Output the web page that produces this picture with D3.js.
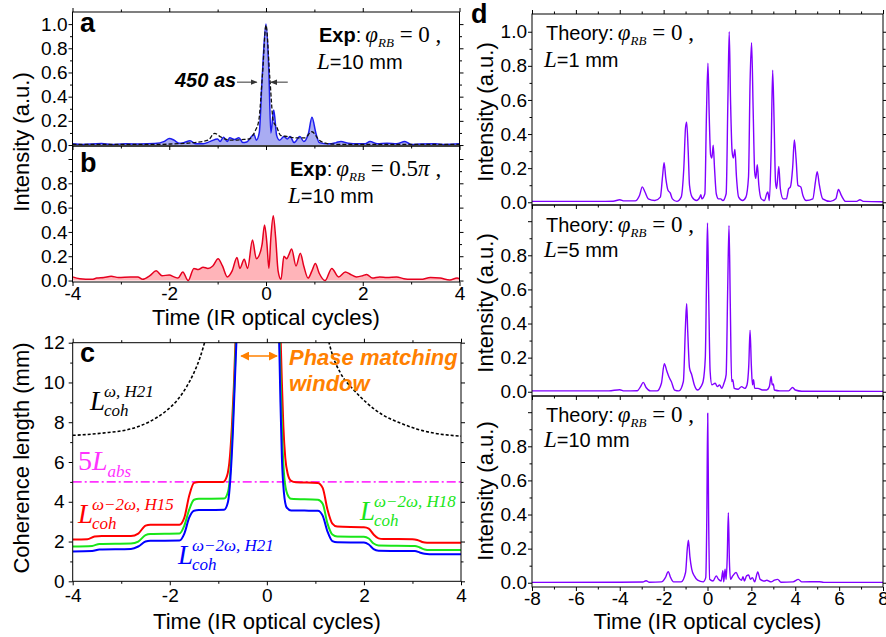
<!DOCTYPE html>
<html><head><meta charset="utf-8">
<script src="https://d3js.org/d3.v7.min.js"></script>
<style>
body{margin:0;background:#fff}
svg text{font-family:"Liberation Sans",Arial,sans-serif}
.tick text{font-size:19px;fill:#000}
.tick line{stroke:#000}
.serif{font-family:"Liberation Serif","Times New Roman",serif !important}
</style></head><body>
<svg id="fig" width="886" height="637"></svg>
<script>
// ---- data ----
// panel a: experiment, phi_RB = 0 (blue, filled) and reconstructed (black dashed)
var expA = [[-4,0.01],[-3.8,0.005],[-3.4,0.012],[-3.2,0.005],[-2.9,0.01],[-2.6,0.008],[-2.3,0.012],[-2.1,0.03],[-2.0,0.055],[-1.9,0.04],[-1.8,0.015],[-1.7,0.02],[-1.57,0.035],[-1.45,0.01],[-1.3,0.01],[-1.15,0.03],[-1.0,0.05],[-0.95,0.03],[-0.88,0.065],[-0.8,0.03],[-0.75,0.06],[-0.65,0.045],[-0.56,0.06],[-0.48,0.02],[-0.4,0.025],[-0.3,0.07],[-0.25,0.09],[-0.2,0.04],[-0.14,0.1],[-0.08,0.55],[0.0,1.0],[0.06,0.6],[0.1,0.1],[0.16,0.29],[0.22,0.08],[0.28,0.04],[0.37,0.07],[0.44,0.05],[0.5,0.07],[0.58,0.02],[0.7,0.07],[0.78,0.03],[0.88,0.1],[0.95,0.23],[1.03,0.1],[1.1,0.02],[1.3,0.01],[1.45,0.02],[1.55,0.03],[1.7,0.015],[1.9,0.01],[2.05,0.01],[2.15,0.03],[2.3,0.01],[2.5,0.015],[2.7,0.01],[2.87,0.03],[3.0,0.005],[3.2,0.008],[3.5,0.01],[3.7,0.005],[4.0,0.01]];
var recA = [[-4,0.005],[-2.2,0.005],[-1.9,0.01],[-1.5,0.02],[-1.2,0.04],[-1.06,0.097],[-0.95,0.07],[-0.85,0.05],[-0.7,0.04],[-0.5,0.045],[-0.35,0.05],[-0.22,0.12],[-0.15,0.2],[-0.07,0.6],[0.0,0.99],[0.08,0.55],[0.15,0.2],[0.22,0.15],[0.3,0.08],[0.45,0.07],[0.6,0.06],[0.8,0.06],[0.95,0.11],[1.1,0.04],[1.3,0.01],[1.6,0.005],[4,0.005]];
// panel b: experiment, phi_RB = 0.5 pi
var expB = [[-4,0.03],[-3.85,0.015],[-3.6,0.01],[-3.5,0.02],[-3.35,0.025],[-3.2,0.035],[-3.05,0.025],[-2.8,0.03],[-2.65,0.03],[-2.55,0.01],[-2.4,0.04],[-2.27,0.08],[-2.15,0.04],[-2.0,0.045],[-1.9,0.03],[-1.82,0.02],[-1.72,0.07],[-1.61,0.0],[-1.49,0.1],[-1.4,0.09],[-1.3,0.11],[-1.2,0.1],[-1.1,0.12],[-0.99,0.18],[-0.9,0.12],[-0.8,0.03],[-0.7,0.08],[-0.6,0.19],[-0.54,0.1],[-0.45,0.175],[-0.38,0.1],[-0.28,0.333],[-0.2,0.18],[-0.15,0.2],[-0.08,0.3],[-0.03,0.457],[0.02,0.3],[0.06,0.1],[0.1,0.35],[0.15,0.534],[0.2,0.35],[0.25,0.08],[0.31,0.01],[0.37,0.2],[0.43,0.18],[0.47,0.21],[0.53,0.26],[0.62,0.12],[0.71,0.225],[0.78,0.12],[0.87,0.02],[0.95,0.08],[1.02,0.14],[1.1,0.06],[1.22,0.0],[1.36,0.1],[1.5,0.03],[1.64,0.07],[1.75,0.05],[1.87,0.03],[2.0,0.04],[2.08,0.05],[2.2,0.02],[2.35,0.03],[2.5,0.025],[2.7,0.03],[2.85,0.015],[3.0,0.01],[3.2,0.01],[3.4,0.025],[3.6,0.02],[3.8,0.005],[3.95,0.02],[4.0,0.015]];
// panel c: coherence lengths (mm), left and right branches
var lohLeft = [[-4,7.34],[-3.4,7.45],[-2.75,7.7],[-2.4,8.05],[-2.06,8.6],[-1.85,9.1],[-1.65,9.8],[-1.5,10.5],[-1.37,11.3],[-1.25,12.3]];
var lohRight = [[1.25,12.3],[1.35,11.4],[1.52,10.46],[1.8,9.6],[2.07,8.95],[2.4,8.35],[2.76,7.95],[3.1,7.65],[3.45,7.45],[4,7.3]];
var absLine = [[-4,5],[4,5]];
var h15Left = [[-4,2.1],[-3.7,2.12],[-3.55,2.25],[-3.4,2.28],[-2.8,2.28],[-2.65,2.4],[-2.5,2.8],[-2.4,2.85],[-1.8,2.85],[-1.7,3.2],[-1.6,4.3],[-1.5,4.95],[-1.4,5.0],[-0.9,5.0],[-0.82,5.3],[-0.76,6.3],[-0.72,7.8],[-0.68,9.8],[-0.64,12.5]];
var h15Right = [[0.28,12.5],[0.31,10],[0.34,7.8],[0.38,6.2],[0.43,5.4],[0.5,5.05],[0.6,4.98],[1.05,4.95],[1.15,4.7],[1.25,3.6],[1.35,2.9],[1.45,2.75],[2.0,2.72],[2.1,2.65],[2.2,2.35],[2.3,2.16],[2.4,2.13],[3.0,2.12],[3.1,2.08],[3.2,1.98],[3.3,1.94],[4.0,1.94]];
var h18Left = [[-4,1.75],[-3.6,1.78],[-3.45,1.88],[-2.8,1.9],[-2.65,2.0],[-2.5,2.32],[-2.4,2.38],[-1.8,2.4],[-1.7,2.8],[-1.6,3.6],[-1.5,4.1],[-1.4,4.15],[-0.88,4.16],[-0.8,4.5],[-0.75,5.6],[-0.71,7.5],[-0.67,9.8],[-0.63,12.5]];
var h18Right = [[0.26,12.5],[0.29,9.5],[0.32,7],[0.36,5.2],[0.42,4.4],[0.5,4.15],[1.05,4.1],[1.15,3.9],[1.25,2.9],[1.35,2.35],[1.45,2.25],[2.0,2.24],[2.1,2.15],[2.2,1.9],[2.3,1.8],[3.05,1.78],[3.15,1.7],[3.25,1.6],[3.35,1.57],[4.0,1.57]];
var h21Left = [[-4,1.5],[-3.6,1.52],[-3.45,1.6],[-2.8,1.63],[-2.65,1.75],[-2.5,2.0],[-2.4,2.04],[-1.8,2.05],[-1.7,2.4],[-1.6,3.2],[-1.5,3.55],[-1.4,3.58],[-0.88,3.6],[-0.8,4.0],[-0.75,5.2],[-0.7,7.5],[-0.66,10],[-0.62,12.5]];
var h21Right = [[0.25,12.5],[0.28,9],[0.31,6.2],[0.35,4.5],[0.41,3.7],[0.5,3.56],[1.05,3.55],[1.15,3.3],[1.25,2.5],[1.35,2.02],[1.45,1.96],[2.0,1.95],[2.1,1.85],[2.2,1.62],[2.3,1.54],[3.05,1.52],[3.15,1.45],[3.25,1.38],[3.35,1.36],[4.0,1.36]];
// panel d: theory, L = 1, 5, 10 mm
var theo1 = [[-8,0.005],[-5,0.005],[-4.3,0.006],[-4.0,0.015],[-3.8,0.008],[-3.3,0.008],[-3.1,0.04],[-2.97,0.09],[-2.85,0.06],[-2.7,0.02],[-2.4,0.01],[-2.15,0.03],[-2.05,0.15],[-1.98,0.232],[-1.9,0.14],[-1.8,0.07],[-1.7,0.055],[-1.6,0.02],[-1.4,0.005],[-1.2,0.03],[-1.08,0.2],[-1.0,0.44],[-0.95,0.47],[-0.88,0.3],[-0.82,0.1],[-0.7,0.03],[-0.5,0.01],[-0.35,0.03],[-0.3,0.045],[-0.26,0.02],[-0.12,0.05],[-0.05,0.5],[0.02,0.815],[0.08,0.5],[0.14,0.28],[0.2,0.26],[0.26,0.335],[0.32,0.2],[0.4,0.05],[0.5,0.02],[0.6,0.02],[0.7,0.01],[0.85,0.05],[0.93,0.6],[0.99,1.0],[1.05,0.6],[1.12,0.3],[1.18,0.26],[1.25,0.31],[1.32,0.15],[1.42,0.03],[1.6,0.01],[1.75,0.03],[1.87,0.15],[1.94,0.7],[2.01,0.935],[2.08,0.55],[2.15,0.18],[2.2,0.14],[2.27,0.22],[2.34,0.1],[2.45,0.02],[2.6,0.01],[2.7,0.05],[2.75,0.06],[2.82,0.01],[2.9,0.3],[2.97,0.775],[3.04,0.45],[3.1,0.12],[3.15,0.08],[3.25,0.21],[3.32,0.08],[3.45,0.02],[3.6,0.02],[3.7,0.08],[3.78,0.09],[3.88,0.2],[3.96,0.365],[4.04,0.25],[4.12,0.1],[4.25,0.09],[4.35,0.04],[4.5,0.01],[4.8,0.02],[4.92,0.12],[5.0,0.18],[5.1,0.1],[5.25,0.02],[5.6,0.005],[5.85,0.02],[5.97,0.075],[6.1,0.04],[6.3,0.005],[6.8,0.005],[6.95,0.015],[7.1,0.005],[8,0.003]];
var theo5 = [[-8,0.005],[-4.5,0.005],[-4.0,0.012],[-3.8,0.005],[-3.2,0.006],[-3.05,0.03],[-2.93,0.055],[-2.8,0.025],[-2.6,0.005],[-2.3,0.005],[-2.1,0.05],[-1.97,0.164],[-1.85,0.12],[-1.75,0.085],[-1.65,0.06],[-1.5,0.01],[-1.3,0.005],[-1.1,0.06],[-1.0,0.4],[-0.95,0.516],[-0.9,0.35],[-0.82,0.14],[-0.72,0.1],[-0.6,0.04],[-0.45,0.01],[-0.3,0.03],[-0.2,0.06],[-0.1,0.2],[-0.04,0.7],[0.0,0.99],[0.05,0.6],[0.12,0.12],[0.2,0.04],[0.35,0.05],[0.45,0.03],[0.55,0.04],[0.65,0.02],[0.75,0.05],[0.85,0.1],[0.92,0.6],[0.98,0.975],[1.04,0.5],[1.1,0.06],[1.15,0.07],[1.22,0.02],[1.4,0.015],[1.55,0.03],[1.7,0.02],[1.8,0.04],[1.88,0.15],[1.94,0.36],[2.0,0.15],[2.05,0.04],[2.1,0.07],[2.15,0.02],[2.3,0.02],[2.5,0.01],[2.7,0.01],[2.82,0.03],[2.9,0.09],[2.95,0.04],[3.0,0.045],[3.05,0.01],[3.3,0.005],[3.7,0.005],[3.88,0.025],[4.0,0.01],[4.3,0.003],[8,0.002]];
var theo10 = [[-8,0.002],[-4,0.003],[-2.95,0.004],[-2.8,0.012],[-2.65,0.003],[-2.1,0.005],[-1.92,0.03],[-1.79,0.065],[-1.68,0.03],[-1.55,0.005],[-1.2,0.005],[-1.0,0.06],[-0.92,0.2],[-0.87,0.25],[-0.8,0.15],[-0.72,0.08],[-0.6,0.04],[-0.45,0.015],[-0.2,0.005],[-0.08,0.03],[-0.03,0.4],[0.01,0.994],[0.05,0.4],[0.1,0.02],[0.25,0.01],[0.4,0.04],[0.5,0.02],[0.62,0.01],[0.7,0.07],[0.74,0.005],[0.8,0.08],[0.85,0.02],[0.9,0.15],[0.95,0.41],[1.0,0.12],[1.05,0.02],[1.15,0.04],[1.3,0.06],[1.42,0.03],[1.55,0.015],[1.62,0.035],[1.68,0.01],[1.78,0.04],[1.88,0.045],[1.95,0.02],[2.05,0.03],[2.15,0.005],[2.29,0.063],[2.4,0.02],[2.6,0.01],[2.7,0.015],[2.9,0.005],[3.05,0.015],[3.2,0.02],[3.35,0.003],[3.9,0.005],[4.14,0.02],[4.3,0.005],[5.1,0.006],[5.3,0.002],[8,0.002]];

// ticks
var intMajor = [0,0.2,0.4,0.6,0.8,1.0];
var intMinor = [0.1,0.3,0.5,0.7,0.9];
var cohMajor = [0,2,4,6,8,10,12];
var cohMinor = [1,3,5,7,9,11];
var t4Major = [-4,-2,0,2,4];
var t4Minor = [-3,-1,1,3];
var t8Major = [-8,-6,-4,-2,0,2,4,6,8];
var t8Minor = [-7,-5,-3,-1,1,3,5,7];

var svg = d3.select("#fig");
var defs = svg.append("defs");

function panel(name, x0, x1, y0, y1, xd, yd) {
    var x = d3.scaleLinear().domain(xd).range([x0, x1]);
    var y = d3.scaleLinear().domain(yd).range([y1, y0]);
    defs.append("clipPath").attr("id", "clip" + name)
        .append("rect").attr("x", x0).attr("y", y0).attr("width", x1 - x0).attr("height", y1 - y0);
    var plot = svg.append("g").attr("clip-path", "url(#clip" + name + ")");
    return {x: x, y: y, plot: plot, x0: x0, x1: x1, y0: y0, y1: y1};
}

function frame(P, o) {
    var g = svg.append("g");
    function side(fn, scale, vals, size, fmt, tr, pad) {
        g.append("g").attr("transform", tr)
            .call(fn(scale).tickValues(vals).tickSize(size).tickPadding(pad || 2).tickFormat(fmt || function() { return ""; }))
            .call(function(s) { s.select(".domain").remove(); });
    }
    side(d3.axisLeft, P.y, o.yMaj, o.tl || 4, o.yFmt, "translate(" + P.x0 + ",0)", o.yPad || 1);
    side(d3.axisLeft, P.y, o.yMin, 2.5, null, "translate(" + P.x0 + ",0)");
    side(d3.axisRight, P.y, o.yMaj, 4, null, "translate(" + P.x1 + ",0)");
    side(d3.axisRight, P.y, o.yMin, 2.5, null, "translate(" + P.x1 + ",0)");
    side(d3.axisBottom, P.x, o.xMaj, 4, o.xFmt, "translate(0," + P.y1 + ")", o.xPad || 3);
    side(d3.axisBottom, P.x, o.xMin, 2.5, null, "translate(0," + P.y1 + ")");
    if (o.top) {
        side(d3.axisTop, P.x, o.xMaj, 4, null, "translate(0," + P.y0 + ")");
        side(d3.axisTop, P.x, o.xMin, 2.5, null, "translate(0," + P.y0 + ")");
    }
    g.append("rect").attr("x", P.x0).attr("y", P.y0).attr("width", P.x1 - P.x0).attr("height", P.y1 - P.y0)
        .attr("fill", "none").attr("stroke", "#000").attr("stroke-width", 1);
}

function lineOf(P) {
    return d3.line().x(function(d) { return P.x(d[0]); }).y(function(d) { return P.y(d[1]); }).curve(d3.curveMonotoneX);
}
function areaOf(P) {
    return d3.area().x(function(d) { return P.x(d[0]); }).y0(P.y(0)).y1(function(d) { return P.y(d[1]); }).curve(d3.curveMonotoneX);
}
function draw(P, data, color, width, dash) {
    P.plot.append("path").datum(data).attr("d", lineOf(P)).attr("fill", "none")
        .attr("stroke", color).attr("stroke-width", width).attr("stroke-dasharray", dash || null)
        .attr("stroke-linejoin", "round");
}

var f1 = function(d) { return d.toFixed(1); };
var f1low = function(d) { return d < 0.9 ? d.toFixed(1) : ""; };
var fInt = function(d) { return String(d); };

// ---- panels ----
var A = panel("a", 72.5, 459.5, 12, 146, [-4, 4], [-0.008, 1.1]);
var B = panel("b", 72.5, 459.5, 146, 282, [-4, 4], [-0.012, 1.107]);
var C = panel("c", 72.7, 461, 342.7, 581.3, [-4, 4], [0, 12]);
var D1 = panel("d1", 532, 883, 14, 205, [-8, 8], [-0.016, 1.104]);
var D2 = panel("d2", 532, 883, 205, 396, [-8, 8], [-0.025, 1.095]);
var D3 = panel("d3", 532, 883, 396, 587, [-8, 8], [-0.025, 1.095]);

A.plot.append("path").datum(expA).attr("d", areaOf(A)).attr("fill", "#a9acf2");
draw(A, expA, "#1c1cf0", 1.5);
draw(A, recA, "#111", 1.3, "4,2");

B.plot.append("path").datum(expB).attr("d", areaOf(B)).attr("fill", "#ffb4b9");
draw(B, expB, "#e6001f", 1.5);

draw(C, lohLeft, "#000", 1.6, "3,2");
draw(C, lohRight, "#000", 1.6, "3,2");
draw(C, absLine, "#ff33ff", 1.6, "9,3,2,3");
draw(C, h15Left, "#ff0000", 2);
draw(C, h15Right, "#ff0000", 2);
draw(C, h18Left, "#19e619", 2);
draw(C, h18Right, "#19e619", 2);
draw(C, h21Left, "#0000ff", 2);
draw(C, h21Right, "#0000ff", 2);

draw(D1, theo1, "#8000ff", 1.4);
draw(D2, theo5, "#8000ff", 1.4);
draw(D3, theo10, "#8000ff", 1.4);

frame(A, {yMaj: intMajor, yMin: intMinor, yFmt: f1, xMaj: t4Major, xMin: t4Minor, top: true});
frame(B, {yMaj: intMajor, yMin: intMinor, yFmt: f1low, xMaj: t4Major, xMin: t4Minor, xFmt: fInt, xPad: 1});
frame(C, {yMaj: cohMajor, yMin: cohMinor, yFmt: fInt, yPad: 4, xMaj: t4Major, xMin: t4Minor, xFmt: fInt, top: true});
frame(D1, {yMaj: intMajor, yMin: intMinor, yFmt: f1, xMaj: t8Major, xMin: t8Minor, top: true});
frame(D2, {yMaj: intMajor, yMin: intMinor, yFmt: f1low, xMaj: t8Major, xMin: t8Minor});
frame(D3, {yMaj: intMajor, yMin: intMinor, yFmt: f1low, xMaj: t8Major, xMin: t8Minor, xFmt: fInt, xPad: 1});

// ---- text ----
var txt = svg.append("g");
function label(x, y, s, size, extra) {
    var t = txt.append("text").attr("x", x).attr("y", y).attr("font-size", size).text(s);
    if (extra) extra(t);
    return t;
}
function bold(t) { t.attr("font-weight", "bold"); }

label(80, 32, "a", 27, bold);
label(80, 172, "b", 27, bold);
label(80, 362, "c", 27, bold);
label(471, 23, "d", 27, bold);

function vtitle(x, y, s) {
    txt.append("text").attr("transform", "translate(" + x + "," + y + ") rotate(-90)")
        .attr("text-anchor", "middle").attr("font-size", 22).text(s);
}
vtitle(29, 142, "Intensity (a.u.)");
vtitle(29, 458, "Coherence length (mm)");
vtitle(493, 112, "Intensity (a.u.)");
vtitle(493, 303, "Intensity (a.u.)");
vtitle(493, 491, "Intensity (a.u.)");
label(266, 325, "Time (IR optical cycles)", 22, function(t) { t.attr("text-anchor", "middle"); });
label(267, 629, "Time (IR optical cycles)", 22, function(t) { t.attr("text-anchor", "middle"); });
label(707.5, 629, "Time (IR optical cycles)", 22, function(t) { t.attr("text-anchor", "middle"); });

function phiLine(x, y, head, isBold, val, withPi) {
    var t = txt.append("text").attr("x", x).attr("y", y).attr("font-size", 20);
    t.append("tspan").attr("font-weight", isBold ? "bold" : null).text(head);
    t.append("tspan").text(":\u2009");
    t.append("tspan").attr("class", "serif").attr("font-style", "italic").attr("font-size", 23).text("\u03C6");
    t.append("tspan").attr("class", "serif").attr("font-style", "italic").attr("font-size", 13).attr("dy", 5).text("RB");
    t.append("tspan").attr("class", "serif").attr("font-size", 23).attr("dy", -5).text(" = " + val);
    if (withPi) t.append("tspan").attr("class", "serif").attr("font-style", "italic").attr("font-size", 23).text("\u03C0");
    t.append("tspan").attr("class", "serif").attr("font-size", 23).text(" ,");
}
function lLine(x, y, rest) {
    var t = txt.append("text").attr("x", x).attr("y", y).attr("font-size", 20);
    t.append("tspan").attr("class", "serif").attr("font-style", "italic").attr("font-size", 23).text("L");
    t.append("tspan").text(rest);
}
phiLine(319, 42, "Exp", true, "0");
lLine(317, 69, "=10 mm");
phiLine(290, 176, "Exp", true, "0.5", true);
lLine(288, 203, "=10 mm");
phiLine(546, 40, "Theory", false, "0");
lLine(544, 67, "=1 mm");
phiLine(546, 232, "Theory", false, "0");
lLine(544, 257, "=5 mm");
phiLine(546, 422, "Theory", false, "0");
lLine(544, 447, "=10 mm");

// 450 as annotation
label(175, 87, "450 as", 20, function(t) { t.attr("font-weight", "bold").attr("font-style", "italic"); });
defs.append("marker").attr("id", "ah").attr("viewBox", "0 0 10 10").attr("refX", 9).attr("refY", 5)
    .attr("markerWidth", 7).attr("markerHeight", 7).attr("orient", "auto-start-reverse")
    .append("path").attr("d", "M0,1L10,5L0,9z").attr("fill", "#333");
defs.append("marker").attr("id", "ao").attr("viewBox", "0 0 10 10").attr("refX", 9).attr("refY", 5)
    .attr("markerWidth", 6).attr("markerHeight", 6).attr("orient", "auto-start-reverse")
    .append("path").attr("d", "M0,0L10,5L0,10z").attr("fill", "#ff8000");
txt.append("line").attr("x1", A.x(-0.6)).attr("x2", A.x(-0.19)).attr("y1", A.y(0.52)).attr("y2", A.y(0.52))
    .attr("stroke", "#333").attr("stroke-width", 1).attr("marker-end", "url(#ah)");
txt.append("line").attr("x1", A.x(0.45)).attr("x2", A.x(0.1)).attr("y1", A.y(0.52)).attr("y2", A.y(0.52))
    .attr("stroke", "#333").attr("stroke-width", 1).attr("marker-end", "url(#ah)");

// phase matching window
txt.append("line").attr("x1", C.x(-0.53)).attr("x2", C.x(0.21)).attr("y1", C.y(11.33)).attr("y2", C.y(11.33))
    .attr("stroke", "#ff8000").attr("stroke-width", 1.5)
    .attr("marker-start", "url(#ao)").attr("marker-end", "url(#ao)");
label(289, 365, "Phase matching", 22, function(t) { t.attr("font-weight", "bold").attr("font-style", "italic").attr("fill", "#ff8000"); });
label(289, 391, "window", 22, function(t) { t.attr("font-weight", "bold").attr("font-style", "italic").attr("fill", "#ff8000"); });

// coherence length labels
function coh(x, y, sup, color) {
    txt.append("text").attr("class", "serif").attr("x", x).attr("y", y).attr("font-size", 27)
        .attr("font-style", "italic").attr("fill", color).text("L");
    txt.append("text").attr("class", "serif").attr("x", x + 14).attr("y", y - 13).attr("font-size", 17)
        .attr("font-style", "italic").attr("fill", color).text(sup);
    txt.append("text").attr("class", "serif").attr("x", x + 14).attr("y", y + 6).attr("font-size", 17)
        .attr("font-style", "italic").attr("fill", color).text("coh");
}
coh(90, 410, "\u03C9, H21", "#000");
coh(78, 523, "\u03C9\u22122\u03C9, H15", "#ff0000");
coh(360, 520, "\u03C9\u22122\u03C9, H18", "#19e619");
coh(178, 564, "\u03C9\u22122\u03C9, H21", "#0000ff");
var t5 = txt.append("text").attr("class", "serif").attr("x", 78).attr("y", 470).attr("font-size", 28).attr("fill", "#ff33ff");
t5.append("tspan").text("5");
t5.append("tspan").attr("font-style", "italic").text("L");
t5.append("tspan").attr("font-style", "italic").attr("font-size", 17).attr("dy", 7).text("abs");
</script>
</body></html>
